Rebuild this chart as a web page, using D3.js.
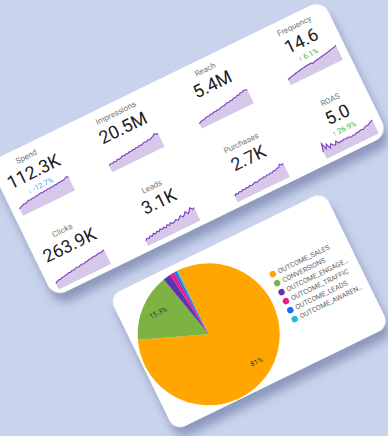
<!DOCTYPE html>
<html><head><meta charset="utf-8">
<script src="https://cdn.jsdelivr.net/npm/d3@7"></script>
<style>html,body{margin:0;padding:0;background:#c9d3ec;overflow:hidden}</style>
</head><body><svg id="c" width="388" height="436"></svg>
<script>
// ---- data ----
const kpiLabels = ["Spend","Impressions","Reach","Frequency","Clicks","Leads","Purchases","ROAS"];
const kpiValues = ["112.3K","20.5M","5.4M","14.6","263.9K","3.1K","2.7K","5.0"];
const kpiChanges = ["-12.7%", null, null, "6.1%", null, null, null, "26.9%"];
const sparkSpend = [45,52,55,60,58,64,68,65,70,67,72,70,74,76,72,77,75,79,76,80,78,82,80,84,82,85,84,90,95,88];
const sparkImpressions = [45,52,48,55,50,58,54,57,64,60,66,62,68,64,70,67,74,70,76,72,78,82,76,85,80,86,90,100,94,92];
const sparkReach = [30,38,42,40,46,48,46,52,50,55,53,57,55,60,63,62,66,70,67,73,70,78,75,82,80,88,85,92,90,86];
const sparkFrequency = [38,42,45,48,50,54,56,58,60,62,64,66,67,68,69,62,68,70,72,74,76,78,80,82,85,87,90,93,96,100];
const sparkClicks = [40,48,52,50,56,55,60,58,64,62,67,65,70,72,68,74,76,72,78,77,82,80,84,86,84,88,90,87,92,95];
const sparkLeads = [35,45,38,50,42,55,46,58,50,62,54,60,52,66,56,68,58,62,72,60,70,80,66,75,90,70,82,98,80,88];
const sparkPurchases = [40,50,44,52,47,55,50,56,52,58,54,57,62,56,60,65,62,68,63,70,66,72,68,76,72,80,78,95,84,88];
const sparkRoas = [45,95,55,80,48,70,58,50,72,52,58,55,62,56,60,58,52,58,55,62,60,64,66,62,70,74,72,80,84,90];
const sparks = [sparkSpend,sparkImpressions,sparkReach,sparkFrequency,sparkClicks,sparkLeads,sparkPurchases,sparkRoas];

const pieCategories = ["OUTCOME_SALES","CONVERSIONS","OUTCOME_ENGAGE…","OUTCOME_TRAFFIC","OUTCOME_LEADS","OUTCOME_AWAREN…"];
const pieShares = [81, 15.3, 1.8, 1.0, 0.6, 0.3];
const pieLabels = ["81%","15.3%","","","",""];
const pieColors = ["#ffa600","#7cb342","#5e35b1","#ec1a8a","#1a6fe8","#22bcd8"];

// ---- drawing ----
const svg = d3.select("#c");
svg.append("rect").attr("width",388).attr("height",436).attr("fill","#c9d3ec");
const defs = svg.append("defs");
const f = defs.append("filter").attr("id","sh").attr("x","-20%").attr("y","-20%").attr("width","140%").attr("height","160%");
f.append("feDropShadow").attr("dx",0).attr("dy",10).attr("stdDeviation",5)
  .attr("flood-color","#5a6694").attr("flood-opacity",0.55);

const world = svg.append("g").attr("transform","rotate(-26)");
const font = "Roboto, 'Noto Sans', sans-serif";

// top card
const topCard = world.append("g").attr("transform","translate(-82,141)");
topCard.append("rect").attr("width",372).attr("height",150).attr("rx",14)
  .attr("fill","#fff").attr("filter","url(#sh)");
const colCenters = [37,136.5,236,335];
const rowStep = 82;
const sw = 58, sh = 16;
const xs = d3.scaleLinear().domain([0,29]).range([-sw/2, sw/2]);

kpiLabels.forEach((lab,i)=>{
  const col = i%4, row = Math.floor(i/4);
  const g = topCard.append("g").attr("transform",`translate(${colCenters[col]},${row*rowStep})`);
  g.append("text").attr("x",0).attr("y",14).attr("text-anchor","middle")
    .attr("font-family",font).attr("font-size",8).attr("fill","#757575").text(lab);
  g.append("text").attr("x",0).attr("y",34).attr("text-anchor","middle")
    .attr("font-family",font).attr("font-size",18).attr("fill","#202124").text(kpiValues[i]);
  const ch = kpiChanges[i];
  if (ch) {
    const neg = ch.startsWith("-");
    g.append("text").attr("x",0).attr("y",46).attr("text-anchor","middle")
      .attr("font-family",font).attr("font-size",7.5).attr("fill",neg?"#4aa3f0":"#4caf50")
      .text((neg?"↓ ":"↑ ")+ch);
  }
  const data = sparks[i];
  const ys = d3.scaleLinear().domain([0,d3.max(data)]).range([63, 63-sh]);
  const area = d3.area().x((d,j)=>xs(j)).y0(63).y1(d=>ys(d));
  const line = d3.line().x((d,j)=>xs(j)).y(d=>ys(d));
  g.append("path").datum(data).attr("d",area).attr("fill","#d6c8e8");
  g.append("path").datum(data).attr("d",line).attr("fill","none").attr("stroke","#7c3cc0").attr("stroke-width",1.1);
});

// pie card
const pieCard = world.append("g").attr("transform","translate(-32,314)");
pieCard.append("rect").attr("width",239).attr("height",150).attr("rx",12)
  .attr("fill","#fff").attr("filter","url(#sh)");
const r = 71;
const pg = pieCard.append("g").attr("transform","translate(73,78)");
const pie = d3.pie().sort(null).value(d=>d)(pieShares);
const arc = d3.arc().innerRadius(0).outerRadius(r);
const labelArc = d3.arc().innerRadius(r*0.55).outerRadius(r);
pg.selectAll("path.s").data(pie).join("path").attr("class","s")
  .attr("d",arc).attr("fill",(d,i)=>pieColors[i]);
pg.selectAll("text.l").data(pie).join("text").attr("class","l")
  .attr("transform",d=>`translate(${labelArc.centroid(d)})`)
  .attr("text-anchor","middle").attr("dy","0.35em")
  .attr("font-family",font).attr("font-size",7).attr("fill","#333")
  .text((d,i)=>pieLabels[i]);

const lg = pieCard.append("g").attr("transform","translate(157,52)");
pieCategories.forEach((c,i)=>{
  lg.append("circle").attr("cx",0).attr("cy",i*10).attr("r",3.2).attr("fill",pieColors[i]);
  lg.append("text").attr("x",6).attr("y",i*10).attr("dy","0.35em")
    .attr("font-family",font).attr("font-size",7).attr("fill","#5f6368").text(c);
});
</script>
</body></html>
